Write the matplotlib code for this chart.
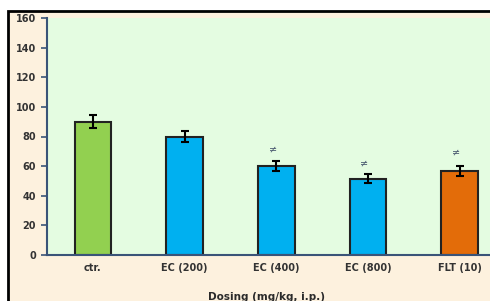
import matplotlib.pyplot as plt
from matplotlib.patches import Rectangle

categories = ['ctr.', 'EC (200)', 'EC (400)', 'EC (800)', 'FLT (10)']
values = [90, 80, 60, 51.5, 56.5]
errors = [4.5, 4, 3.3, 3, 3.5]
bar_colors = ['#92D050', '#00B0F0', '#00B0F0', '#00B0F0', '#E36C09']
# significance marks above bars (category index, y value)
sig_idx = [2, 3, 4]
sig_y = [71, 62, 69]
sig_txt = ['≠', '≠', '≠']

fig = plt.figure(figsize=(4.9, 3.01), dpi=100)
fig.patch.set_facecolor('white')

# beige chart area with black frame (cropped on right/bottom)
frame = Rectangle((8 / 490, -0.05), 1.1, (301 - 11) / 301 + 0.05,
                  transform=fig.transFigure, facecolor='#FDF1DE',
                  edgecolor='black', linewidth=2, zorder=-1)
fig.patches.append(frame)

ax = fig.add_axes([47 / 490, (301 - 255) / 301, 458.5 / 490, 237 / 301])
ax.set_zorder(1)
ax.set_facecolor('#E4FCE1')

x = range(len(categories))
ax.bar(x, values, width=0.4, color=bar_colors, edgecolor='#222222',
       linewidth=1.5, zorder=2)
ax.errorbar(x, values, yerr=errors, fmt='none', ecolor='black',
            elinewidth=1.5, capsize=3, capthick=1.5, zorder=3)

for i, y, t in zip(sig_idx, sig_y, sig_txt):
    ax.text(i - 0.04, y, t, ha='center', va='center', fontsize=7,
            color='#4a5a70', zorder=4)

ax.set_xlim(-0.5, 4.5)
ax.set_ylim(0, 160)
ax.set_yticks(range(0, 161, 20))
ax.set_xticks(list(x))
ax.set_xticklabels(categories)

for s in ['top', 'right']:
    ax.spines[s].set_visible(False)
for s in ['left', 'bottom']:
    ax.spines[s].set_color('#3A5478')
    ax.spines[s].set_linewidth(1.5)

ax.tick_params(axis='y', direction='out', length=4, width=1.2,
               color='#3A5478', labelsize=7, labelcolor='#333333', pad=4)
ax.tick_params(axis='x', length=0, labelsize=7, labelcolor='#333333', pad=6)
for lab in ax.get_xticklabels() + ax.get_yticklabels():
    lab.set_fontweight('bold')

fig.text(266 / 490, 1 - 297 / 301, 'Dosing (mg/kg, i.p.)', ha='center',
         va='center', fontsize=7.5, fontweight='bold', color='#2a2a2a')

fig.savefig('out.png', dpi=100)
